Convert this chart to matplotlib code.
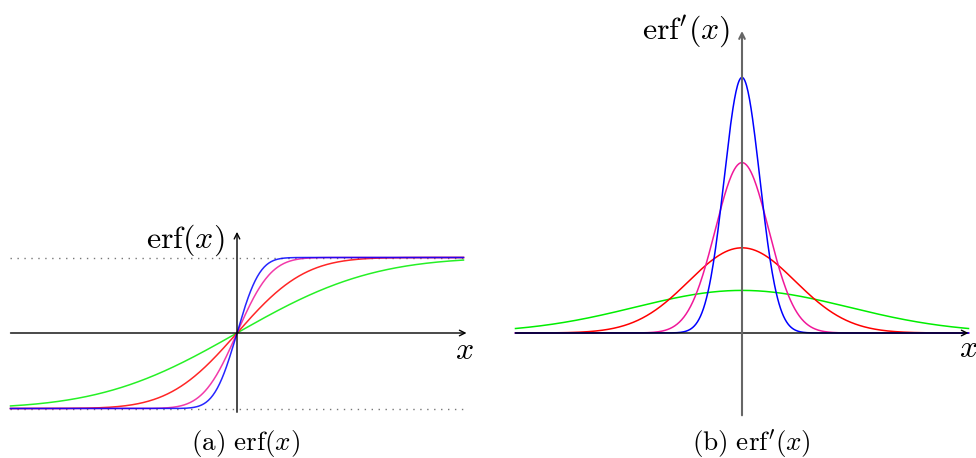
import numpy as np
import matplotlib.pyplot as plt
from math import erf

plt.rcParams['mathtext.fontset'] = 'cm'

# scale factors k of erf(k x), drawn back to front
scales = [0.5, 1.0, 2.0, 3.0]
colors = ['#00ee00', '#ff0000', '#f0189a', '#0000ff']
x_min, x_max = -3.0, 3.0

W, H = 976, 458
ppu = 75.5  # pixels per unit on both axes

fig = plt.figure(figsize=(W / 100, H / 100), dpi=100)

def panel(left_px, right_px, ox, oy):
    # ox, oy: pixel position of the origin, measured from the top-left corner
    ax = fig.add_axes([left_px / W, 0, (right_px - left_px) / W, 1])
    ax.set_xlim((left_px - ox) / ppu, (right_px - ox) / ppu)
    ax.set_ylim(-(H - oy) / ppu, oy / ppu)
    ax.axis('off')
    return ax

xs = np.linspace(x_min, x_max, 601)
verf = np.vectorize(erf)

# (a) erf
ax1 = panel(0, 488, 237, 333)
for y in (1, -1):
    ax1.plot([x_min, 3.02], [y, y], color='#777777', lw=1.0, ls=(0, (1, 4)))
for k, c in zip(scales, colors):
    ax1.plot(xs, verf(k * xs), color=c, lw=1.1, alpha=0.85)
ax1.annotate('', xy=(3.04, 0), xytext=(x_min, 0),
             arrowprops=dict(arrowstyle='->', lw=1.0, color='black', shrinkA=0, shrinkB=0))
ax1.annotate('', xy=(0, 1.34), xytext=(0, -1.05),
             arrowprops=dict(arrowstyle='->', lw=1.0, color='black', shrinkA=0, shrinkB=0))
ax1.text(-0.16, 1.23, r'$\mathrm{erf}(x)$', ha='right', va='center', fontsize=23)
ax1.text(3.01, -0.23, r'$x$', ha='center', va='center', fontsize=23)
ax1.text(0.12, -1.46, r'$\mathrm{(a)}\ \mathrm{erf}(x)$', ha='center', va='center', fontsize=19.5)

# (b) derivative of erf
ax2 = panel(488, 976, 742, 333)
for k, c in zip(scales, colors):
    ax2.plot(xs, 2 / np.sqrt(np.pi) * k * np.exp(-(k * xs) ** 2), color=c, lw=1.1)
ax2.annotate('', xy=(3.0, 0), xytext=(x_min, 0),
             arrowprops=dict(arrowstyle='->', lw=1.0, color='black', shrinkA=0, shrinkB=0))
ax2.annotate('', xy=(0, 4.0), xytext=(0, -1.09),
             arrowprops=dict(arrowstyle='->', lw=1.5, color='#666666', shrinkA=0, shrinkB=0))
ax2.text(-0.16, 3.99, r"$\mathrm{erf}'(x)$", ha='right', va='center', fontsize=23)
ax2.text(3.0, -0.2, r'$x$', ha='center', va='center', fontsize=23)
ax2.text(0.12, -1.46, r"$\mathrm{(b)}\ \mathrm{erf}'(x)$", ha='center', va='center', fontsize=19.5)

fig.savefig('out.png', dpi=100)
